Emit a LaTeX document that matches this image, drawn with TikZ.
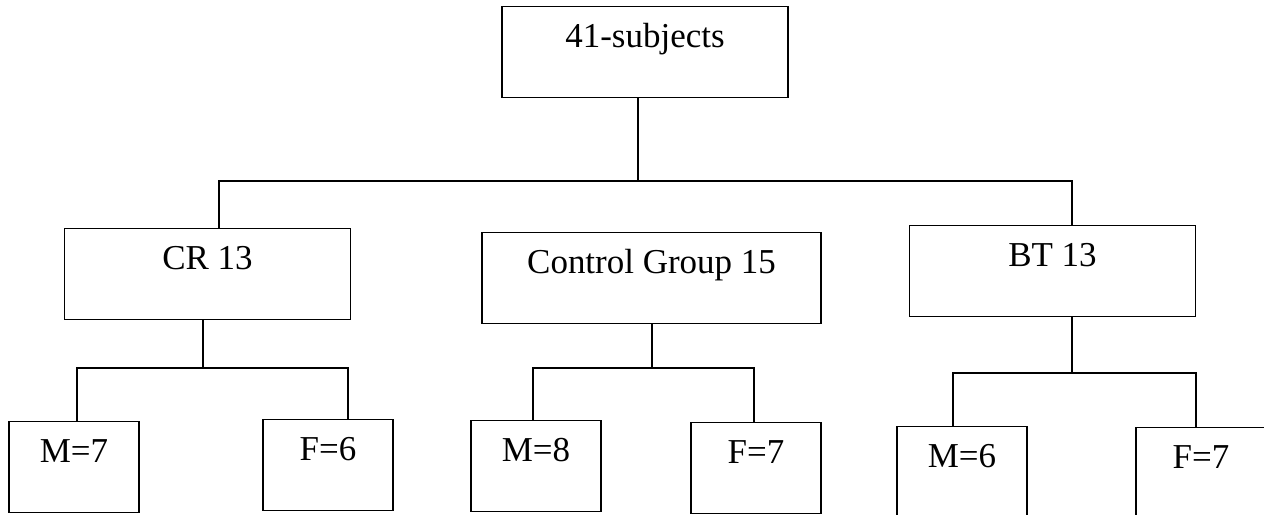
\documentclass[tikz,border=0pt]{standalone}
\usepackage{fontspec}
\setmainfont{Liberation Serif}
\begin{document}
\begin{tikzpicture}[x=0.02cm, y=-0.02cm, line width=0.75pt,
  box/.style={draw, rectangle, anchor=north, inner sep=0pt, text height=0.82cm, text depth=1cm, font=\fontsize{19.9pt}{24pt}\selectfont},
  widebox/.style={box, minimum width=5.72cm},
  smallbox/.style={box, minimum width=2.6cm}]
\clip (0,0) rectangle (1264,514);
\node[widebox] (subj) at (645,6) {41-subjects};
\node[widebox] (cr) at (207.5,228) {CR 13};
\node[box, minimum width=6.78cm] (cg) at (651.5,232) {Control Group 15};
\node[widebox] (bt) at (1052.5,225) {BT 13};
\node[smallbox] (crm) at (74,421) {M=7};
\node[smallbox] (crf) at (328,419) {F=6};
\node[smallbox] (cgm) at (536,420) {M=8};
\node[smallbox] (cgf) at (756,422) {F=7};
\node[smallbox] (btm) at (962,426) {M=6};
\node[smallbox] (btf) at (1201,427) {F=7};
\coordinate (j0) at (638,181);
\coordinate (j0l) at (219,181);
\coordinate (j0r) at (1072,181);
\draw (subj.south -| j0) -- (j0);
\draw (cr.north -| j0l) -- (j0l) -- (j0r) -- (bt.north -| j0r);
\coordinate (j1) at (203,368);
\coordinate (j1l) at (77,368);
\coordinate (j1r) at (348,368);
\draw (cr.south -| j1) -- (j1);
\draw (crm.north -| j1l) -- (j1l) -- (j1r) -- (crf.north -| j1r);
\coordinate (j2) at (652,368);
\coordinate (j2l) at (533,368);
\coordinate (j2r) at (754,368);
\draw (cg.south -| j2) -- (j2);
\draw (cgm.north -| j2l) -- (j2l) -- (j2r) -- (cgf.north -| j2r);
\coordinate (j3) at (1072,373);
\coordinate (j3l) at (953,373);
\coordinate (j3r) at (1196,373);
\draw (bt.south -| j3) -- (j3);
\draw (btm.north -| j3l) -- (j3l) -- (j3r) -- (btf.north -| j3r);
\end{tikzpicture}
\end{document}
